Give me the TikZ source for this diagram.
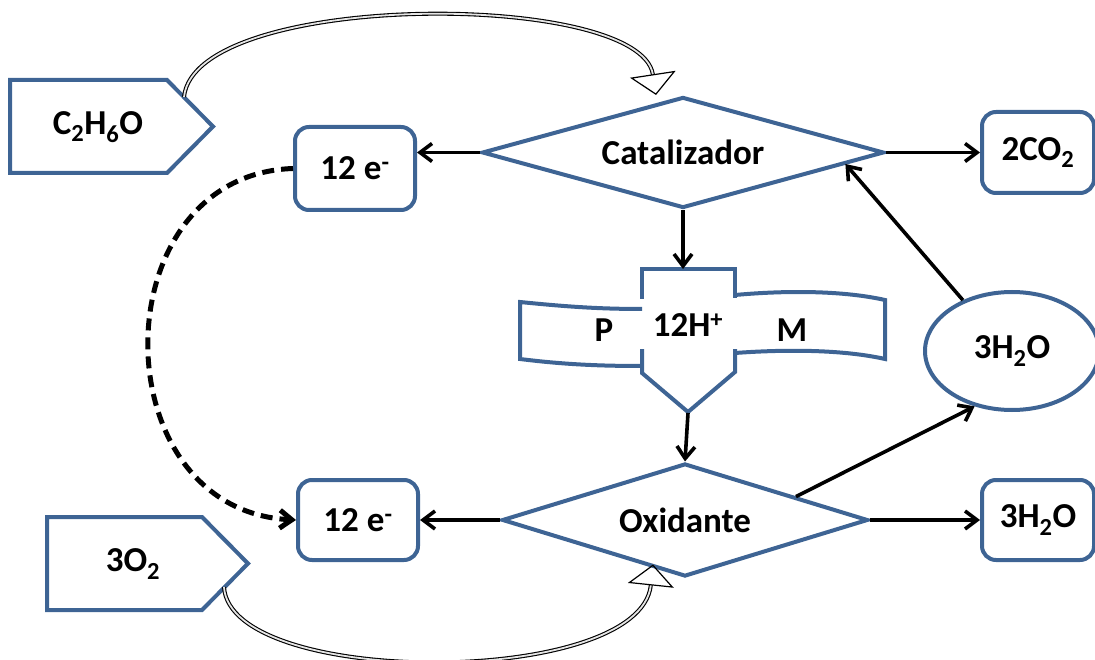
\documentclass[tikz,border=0pt]{standalone}
\usepackage{fontspec}
\setmainfont{Carlito}
\usetikzlibrary{arrows.meta,positioning,calc,shapes.geometric}
\definecolor{edgeblue}{HTML}{3E6494}

\begin{document}
\begin{tikzpicture}[x=1pt, y=-1pt,
    lbl/.style={font=\fontsize{35}{40}\selectfont\bfseries},
    box/.style={lbl, draw=edgeblue, line width=4pt, rounded corners=14pt, inner sep=0pt},
    rhomb/.style={lbl, diamond, draw=edgeblue, line width=4pt, inner sep=0pt, aspect=3.6},
    wall/.style={draw=edgeblue, line width=4pt, line join=miter},
    link/.style={-{Straight Barb[length=12pt,width=18pt]}, line width=3.6pt},
    supply/.style={-{Triangle[open,length=21pt,width=46pt,line width=1.2pt]}, double=gray!20, double distance=1.8pt, line width=1.1pt}
]
\useasboundingbox (0,0) rectangle (1095,660);

% Reactants
\draw[wall] (10,80) -- (167,80) -- (213,126.5) -- (167,173) -- (10,173) -- cycle;
\node[lbl] (etoh) at (98,127) {C\textsubscript{2}H\textsubscript{6}O};
\coordinate (etohout) at (184,97);
\draw[wall] (47,517) -- (202,517) -- (248,563.5) -- (202,610) -- (47,610) -- cycle;
\node[lbl] (oxy) at (133,564) {3O\textsubscript{2}};
\coordinate (oxyout) at (224,587);

% Electrodes
\node[rhomb, minimum width=402pt, minimum height=111pt] (cat) at (683,152.5) {Catalizador};
\node[rhomb, minimum width=366pt, minimum height=113pt] (oxi) at (685,520) {Oxidante};

% Products
\node[box, minimum width=120pt, minimum height=83pt] (etop) at (355,168.5) {12 e\textsuperscript{-}};
\node[box, minimum width=120pt, minimum height=80pt] (ebot) at (358,520) {12 e\textsuperscript{-}};
\node[box, minimum width=112pt, minimum height=81pt] (co2) at (1038,152.5) {2CO\textsubscript{2}};
\node[box, minimum width=112pt, minimum height=80pt] (wout) at (1038,520) {3H\textsubscript{2}O};
\node[lbl, ellipse, draw=edgeblue, line width=4pt, inner sep=0pt, minimum width=174pt, minimum height=118pt] (wcyc) at (1012,351) {3H\textsubscript{2}O};

% Membrane
\draw[wall] (642,299) -- (642,269) -- (735,269) -- (735,298);
\draw[wall] (642,349) -- (642,373) -- (688,412) -- (735,372) -- (735,349);
\draw[wall] (642,309) .. controls (595,309) and (560,306) .. (520,302) -- (520,359) .. controls (560,364) and (595,366) .. (642,366);
\draw[wall] (735,295) .. controls (790,290) and (845,291) .. (885,300) -- (885,359) .. controls (845,350) and (790,349) .. (735,353);
\node[lbl] (pside) at (604,330) {P};
\node[lbl] (prot) at (688,325) {12H\textsuperscript{+}};
\node[lbl] (mside) at (792,330) {M};
\coordinate (memtop) at (683,269);
\coordinate (memtip) at (688,413);

% Arrows
\draw[link] (cat.west) -- (cat.west -| etop.east);
\draw[link] (cat.east) -- (co2.west);
\draw[link] (cat.south) -- (memtop);
\draw[link] (memtip) -- (oxi.north);
\draw[link] (oxi.west) -- (ebot.east);
\draw[link] (oxi.east) -- (wout.west);
\draw[link] ($(oxi.north)!0.6!(oxi.east)$) -- (wcyc.236);
\draw[link] (wcyc.134) -- ($(cat.east)!0.2!(cat.south)$);
\draw[link, dash pattern=on 12pt off 7pt, line width=5pt] (etop.west) .. controls (100,175) and (100,510) .. (ebot.west);

% Feed lines
\draw[supply] (etohout) .. controls (195,-10) and (640,-10) .. ([xshift=-27pt]cat.north);
\draw[supply] (oxyout) .. controls (230,688) and (640,688) .. ([xshift=-32pt,yshift=14pt]oxi.south);

\end{tikzpicture}
\end{document}
